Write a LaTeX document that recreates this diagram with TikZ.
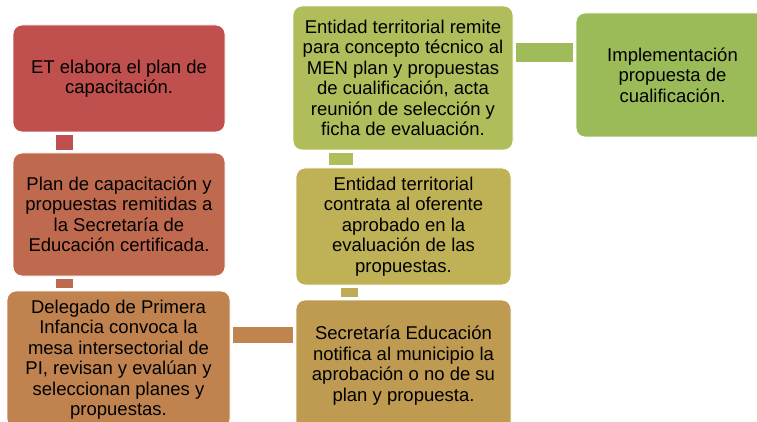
\documentclass[tikz,border=0pt]{standalone}
\usepackage{fontspec}
\setmainfont{Liberation Sans}
\usepackage{tikz}
\usetikzlibrary{positioning, calc}
\definecolor{redA}{HTML}{C0504D}
\definecolor{redB}{HTML}{BF6A4F}
\definecolor{orangeA}{HTML}{C0834F}
\definecolor{ochreA}{HTML}{BF9B52}
\definecolor{oliveA}{HTML}{BFB256}
\definecolor{oliveB}{HTML}{B1BD5A}
\definecolor{greenA}{HTML}{9BBB59}

\begin{document}
\begin{tikzpicture}[
    x=1pt, y=-1pt,
    every node/.style={align=center, font=\fontsize{18.5}{20.5}\selectfont},
    stage/.style={rectangle, rounded corners=9pt, draw=white, line width=0.8pt, inner sep=2pt},
    link/.style={shorten <=2.5pt, shorten >=2.5pt}
]
    \useasboundingbox (0,0) rectangle (757,422);
    \clip (0,0) rectangle (757,422);

    % Left column
    \node[stage, fill=redA, minimum width=212pt, minimum height=107pt] (elabora) at (119,78.5)
        {ET elabora el plan de\\capacitación.};
    \node[stage, fill=redB, minimum width=212pt, minimum height=123pt] (remitidas) at (119,214.5)
        {Plan de capacitación y\\propuestas remitidas a\\la Secretaría de\\Educación certificada.};
    \node[stage, fill=orangeA, minimum width=223pt, minimum height=137pt] (delegado) at (118.5,359.5)
        {Delegado de Primera\\Infancia convoca la\\mesa intersectorial de\\PI, revisan y evalúan y\\seleccionan planes y\\propuestas.};

    % Middle column
    \node[stage, fill=ochreA, minimum width=215pt, minimum height=131pt] (notifica) at (403.5,365.5)
        {Secretaría Educación\\notifica al municipio la\\aprobación o no de su\\plan y propuesta.};
    \node[stage, fill=oliveA, minimum width=215pt, minimum height=117pt] (contrata) at (403.5,226.5)
        {Entidad territorial\\contrata al oferente\\aprobado en la\\evaluación de las\\propuestas.};
    \node[stage, fill=oliveB, minimum width=220pt, minimum height=144pt] (concepto) at (403,78)
        {Entidad territorial remite\\para concepto técnico al\\MEN plan y propuestas\\de cualificación, acta\\reunión de selección y\\ficha de evaluación.};

    % Right
    \node[stage, fill=greenA, minimum width=193pt, minimum height=124pt] (implementa) at (672.5,75)
        {Implementación\\propuesta de\\cualificación.};

    % Connections
    \coordinate (v1) at ([xshift=51.5pt]elabora.south west);
    \draw[link, line width=17pt, draw=redA] (v1) -- (v1 |- remitidas.north);
    \coordinate (v2) at ([xshift=51.5pt]remitidas.south west);
    \draw[link, line width=17pt, draw=redB, shorten <=3pt, shorten >=3pt] (v2) -- (v2 |- delegado.north);
    \coordinate (h3) at ([yshift=24.5pt]delegado.east);
    \draw[link, line width=16pt, draw=orangeA!90!ochreA, shorten <=3pt, shorten >=3pt] (h3) -- (h3 -| notifica.west);
    \coordinate (v4) at ([xshift=53.5pt]contrata.south west);
    \draw[link, line width=17pt, draw=oliveA!80!ochreA, shorten <=3pt, shorten >=3pt] (v4) -- (v4 |- notifica.north);
    \coordinate (v5) at ([xshift=48pt]concepto.south west);
    \draw[link, line width=24pt, draw=oliveB, shorten <=3pt, shorten >=3pt] (v5) -- (v5 |- contrata.north);
    \coordinate (h6) at ([yshift=25.5pt]concepto.east);
    \draw[link, line width=19pt, draw=greenA!75!oliveB, shorten <=3pt, shorten >=3pt] (h6) -- (h6 -| implementa.west);
\end{tikzpicture}
\end{document}
